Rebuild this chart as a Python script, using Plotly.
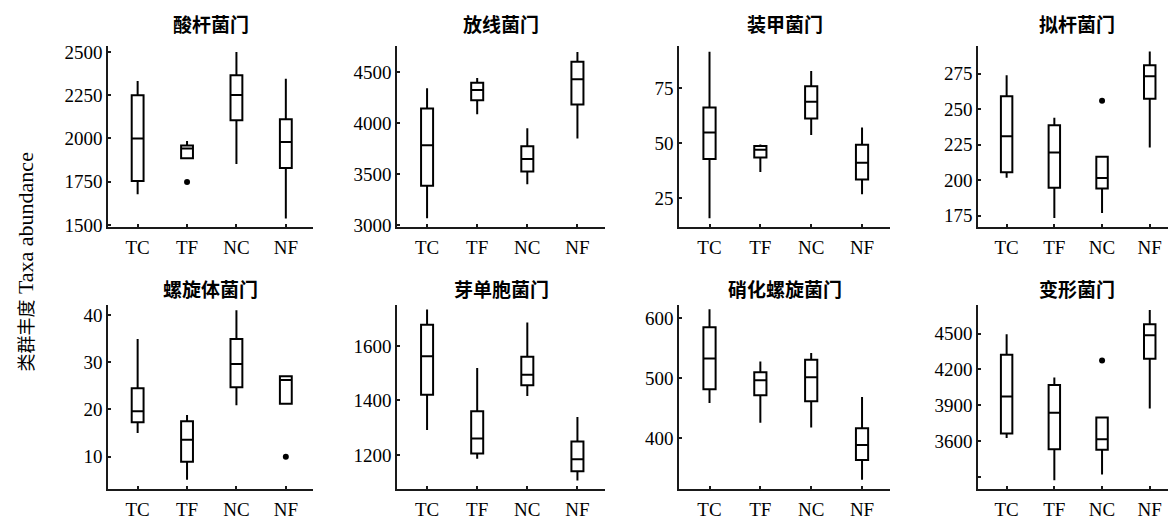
import plotly.graph_objects as go

# page body has an 8px margin; the figure is sized to fill the rest of the window
OFF = 8
W, H = 1176 - OFF, 528 - OFF

categories = ["TC", "TF", "NC", "NF"]
phyla = ["酸杆菌门", "放线菌门", "装甲菌门", "拟杆菌门",
         "螺旋体菌门", "芽单胞菌门", "硝化螺旋菌门", "变形菌门"]

# per panel: values for TC, TF, NC, NF
lowerfence = [
    [1678, 1885, 1853, 1537],
    [3064, 4086, 3398, 3847],
    [15.9, 36.9, 53.7, 26.9],
    [201.8, 173.4, 177.0, 223.0],
    [15.0, 5.1, 20.9, 21.2],
    [1292, 1186, 1416, 1106],
    [459, 426, 418, 331],
    [3624, 3270, 3318, 3873],
]
q1 = [
    [1754, 1885, 2105, 1829],
    [3385, 4223, 3525, 4182],
    [42.8, 43.5, 61.2, 33.5],
    [205.7, 194.8, 194.3, 257.3],
    [17.3, 8.9, 24.7, 21.2],
    [1421, 1205, 1456, 1140],
    [482, 472, 462, 364],
    [3663, 3531, 3526, 4290],
]
median = [
    [2000, 1942, 2252, 1979],
    [3783, 4325, 3647, 4430],
    [54.9, 47.1, 68.8, 41.2],
    [230.9, 219.5, 201.6, 273.2],
    [19.6, 13.6, 29.6, 26.2],
    [1562, 1260, 1494, 1184],
    [533, 497, 502, 389],
    [3974, 3837, 3614, 4486],
]
q3 = [
    [2250, 1960, 2365, 2111],
    [4143, 4395, 3771, 4602],
    [66.2, 48.8, 75.9, 49.3],
    [259.1, 238.6, 216.6, 280.9],
    [24.5, 17.5, 34.9, 27.0],
    [1678, 1360, 1560, 1249],
    [585, 510, 531, 417],
    [4323, 4069, 3796, 4579],
]
upperfence = [
    [2333, 1985, 2500, 2346],
    [4341, 4443, 3949, 4697],
    [91.6, 49.4, 82.8, 57.1],
    [273.9, 243.9, 216.6, 290.5],
    [34.9, 18.8, 41.0, 27.0],
    [1734, 1519, 1686, 1339],
    [615, 528, 542, 469],
    [4495, 4132, 3796, 4699],
]
# outliers: panel index, category, value
outlier_panel = [0, 3, 4, 7]
outlier_cat = ["TF", "NC", "NF", "NC"]
outlier_val = [1748, 255.9, 10, 4276]

y_ranges = [
    [1491, 2534], [2984, 4755], [12.2, 94.1], [167.5, 294.3],
    [3.2, 42.2], [1076, 1752], [316, 623], [3199, 4745],
]
y_ticks = [
    [1500, 1750, 2000, 2250, 2500],
    [3000, 3500, 4000, 4500],
    [25, 50, 75],
    [175, 200, 225, 250, 275],
    [10, 20, 30, 40],
    [1200, 1400, 1600],
    [400, 500, 600],
    [3300, 3600, 3900, 4200, 4500],
]
y_ticktext = [
    None, None, None, None, None, None, None,
    ["", "3600", "3900", "4200", "4500"],
]

col_px = [(108, 313), (397, 605), (679, 890), (978, 1176)]
row_px = [(43, 228), (308, 497)]
title_y_px = [20, 292]


def px_x(p):
    return (p - OFF) / W


def px_y(p):
    return 1 - (p - OFF) / H


fig = go.Figure()
serif = "Liberation Serif"

for i in range(8):
    r, c = divmod(i, 4)
    n = i + 1
    xa = "x" if n == 1 else f"x{n}"
    ya = "y" if n == 1 else f"y{n}"
    fig.add_trace(go.Box(
        x=categories, q1=q1[i], median=median[i], q3=q3[i],
        lowerfence=lowerfence[i], upperfence=upperfence[i],
        xaxis=xa, yaxis=ya, width=0.24, whiskerwidth=0,
        line=dict(color="black", width=2), fillcolor="white",
        boxpoints=False, showlegend=False, hoverinfo="y",
    ))
    ox = [outlier_cat[k] for k in range(len(outlier_panel)) if outlier_panel[k] == i]
    oy = [outlier_val[k] for k in range(len(outlier_panel)) if outlier_panel[k] == i]
    if ox:
        fig.add_trace(go.Scatter(
            x=ox, y=oy, mode="markers", xaxis=xa, yaxis=ya,
            marker=dict(color="black", size=6), showlegend=False,
        ))
    x0, x1 = col_px[c]
    y0, y1 = row_px[r]
    xd = [px_x(x0), min(px_x(x1), 1.0)]
    yd = [px_y(y1), px_y(y0)]
    axis_common = dict(showline=True, linewidth=1.5, linecolor="#1a1a1a",
                       ticks="inside", ticklen=3, tickwidth=1.5, tickcolor="#1a1a1a",
                       showgrid=False, zeroline=False,
                       tickfont=dict(family=serif, size=19, color="black"))
    fig.layout[f"xaxis{'' if n == 1 else n}"] = dict(
        domain=xd, anchor=ya, type="category", categoryorder="array",
        categoryarray=categories, range=[-0.6, 3.55], ticklabelstandoff=3,
        **axis_common)
    yax = dict(domain=yd, anchor=xa, range=y_ranges[i], tickvals=y_ticks[i],
               **axis_common)
    if y_ticktext[i] is not None:
        yax["ticktext"] = y_ticktext[i]
    fig.layout[f"yaxis{'' if n == 1 else n}"] = yax
    fig.add_annotation(
        x=px_x((x0 + x1) / 2), y=px_y(title_y_px[r]), xref="paper", yref="paper",
        text=f"<b>{phyla[i]}</b>", showarrow=False, xanchor="center", yanchor="middle",
        font=dict(family="Noto Sans CJK SC", size=19, color="black"),
    )

fig.add_annotation(
    x=px_x(25), y=px_y(264), xref="paper", yref="paper", textangle=-90,
    text=("<span style='font-family:Noto Sans CJK SC;font-size:18px'>类群丰度</span>"
          "<span style='font-family:Liberation Serif;font-size:22px'> Taxa abundance</span>"),
    showarrow=False, xanchor="center", yanchor="middle",
    font=dict(family=serif, size=22, color="black"),
)

fig.update_layout(
    width=W, height=H, margin=dict(l=0, r=0, t=0, b=0),
    paper_bgcolor="white", plot_bgcolor="white",
)

fig.write_html("out.html")
